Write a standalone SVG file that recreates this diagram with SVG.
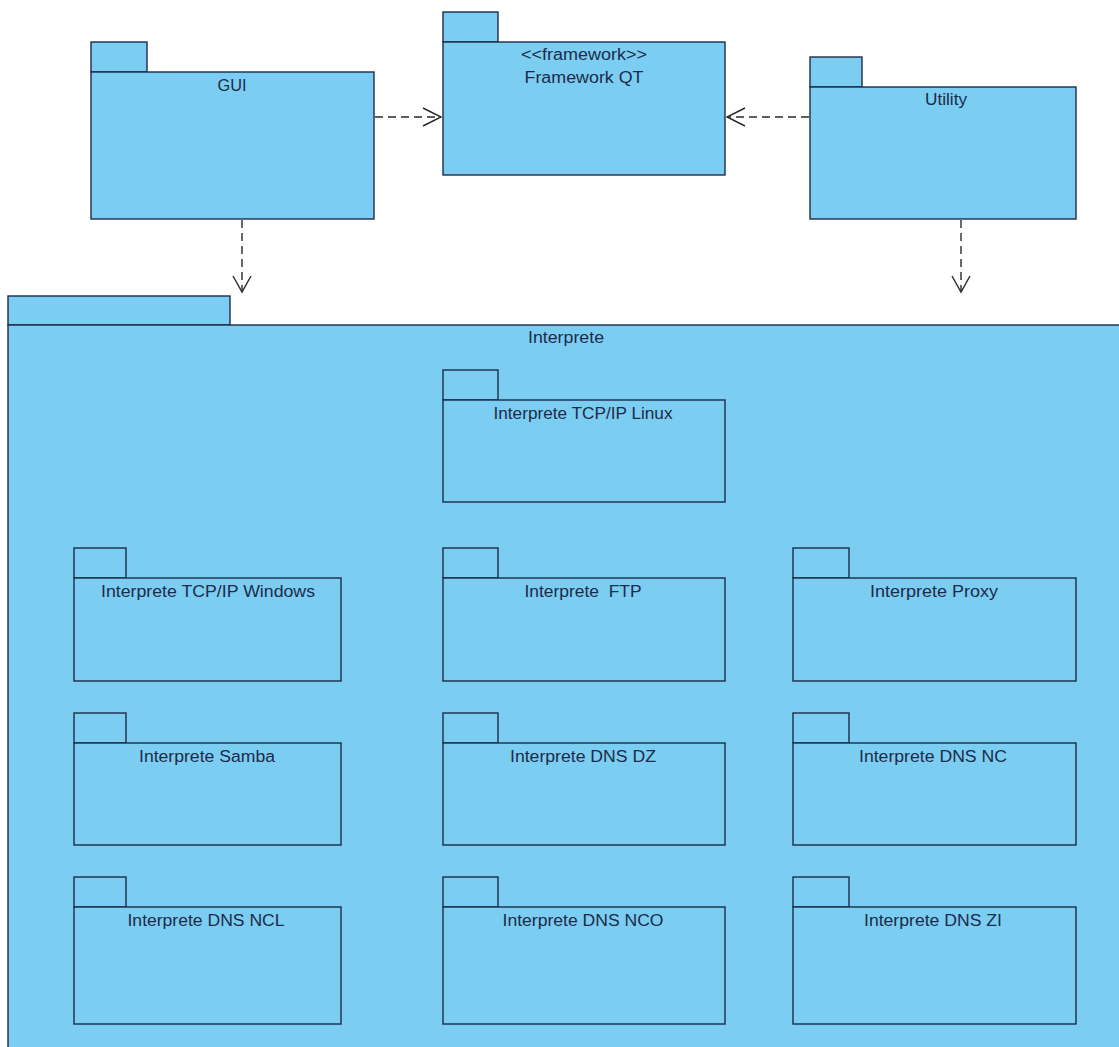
<svg xmlns="http://www.w3.org/2000/svg" width="1119" height="1047" viewBox="0 0 1119 1047">
<style>
.pk{fill:#7bcdf1;stroke:#1d2b4a;stroke-width:1.4}
.lb{font-family:"Liberation Sans",Arial,sans-serif;font-size:16px;fill:#1d2b4a;text-anchor:middle}
.dep{fill:none;stroke:#2a2a2a;stroke-width:1.4;stroke-dasharray:8 5}
.head{fill:none;stroke:#2a2a2a;stroke-width:1.4}
</style>
<rect width="1119" height="1047" fill="#ffffff"/>
<g id="interprete">
<rect class="pk" x="8" y="296" width="222" height="29"/>
<rect class="pk" x="8" y="325" width="1120" height="730"/>
<text class="lb" x="566" y="343" textLength="76" lengthAdjust="spacingAndGlyphs">Interprete</text>
</g>
<g id="gui">
<rect class="pk" x="91" y="42" width="56" height="30"/>
<rect class="pk" x="91" y="72" width="283" height="147"/>
<text class="lb" x="232" y="91" textLength="29" lengthAdjust="spacingAndGlyphs">GUI</text>
</g>
<g id="framework">
<rect class="pk" x="443" y="12" width="55" height="30"/>
<rect class="pk" x="443" y="42" width="282" height="133"/>
<text class="lb" x="584" y="60" textLength="126" lengthAdjust="spacingAndGlyphs">&lt;&lt;framework&gt;&gt;</text>
<text class="lb" x="584" y="83" textLength="119" lengthAdjust="spacingAndGlyphs">Framework QT</text>
</g>
<g id="utility">
<rect class="pk" x="810" y="57" width="52" height="30"/>
<rect class="pk" x="810" y="87" width="266" height="132"/>
<text class="lb" x="946" y="105" textLength="42" lengthAdjust="spacingAndGlyphs">Utility</text>
</g>
<g id="tcpip-linux">
<rect class="pk" x="443" y="370" width="55" height="30"/>
<rect class="pk" x="443" y="400" width="282" height="102"/>
<text class="lb" x="583" y="419" textLength="179" lengthAdjust="spacingAndGlyphs">Interprete TCP/IP Linux</text>
</g>
<g id="tcpip-windows">
<rect class="pk" x="74" y="548" width="52" height="30"/>
<rect class="pk" x="74" y="578" width="267" height="103"/>
<text class="lb" x="208" y="597" textLength="214" lengthAdjust="spacingAndGlyphs">Interprete TCP/IP Windows</text>
</g>
<g id="ftp">
<rect class="pk" x="443" y="548" width="55" height="30"/>
<rect class="pk" x="443" y="578" width="282" height="103"/>
<text class="lb" x="583" y="597" textLength="117" lengthAdjust="spacingAndGlyphs" xml:space="preserve">Interprete  FTP</text>
</g>
<g id="proxy">
<rect class="pk" x="793" y="548" width="56" height="30"/>
<rect class="pk" x="793" y="578" width="283" height="103"/>
<text class="lb" x="934" y="597" textLength="128" lengthAdjust="spacingAndGlyphs">Interprete Proxy</text>
</g>
<g id="samba">
<rect class="pk" x="74" y="713" width="52" height="30"/>
<rect class="pk" x="74" y="743" width="267" height="102"/>
<text class="lb" x="207" y="762" textLength="136" lengthAdjust="spacingAndGlyphs">Interprete Samba</text>
</g>
<g id="dns-dz">
<rect class="pk" x="443" y="713" width="55" height="30"/>
<rect class="pk" x="443" y="743" width="282" height="102"/>
<text class="lb" x="583" y="762" textLength="146" lengthAdjust="spacingAndGlyphs">Interprete DNS DZ</text>
</g>
<g id="dns-nc">
<rect class="pk" x="793" y="713" width="56" height="30"/>
<rect class="pk" x="793" y="743" width="283" height="102"/>
<text class="lb" x="933" y="762" textLength="148" lengthAdjust="spacingAndGlyphs">Interprete DNS NC</text>
</g>
<g id="dns-ncl">
<rect class="pk" x="74" y="877" width="52" height="30"/>
<rect class="pk" x="74" y="907" width="267" height="117"/>
<text class="lb" x="206" y="926" textLength="157" lengthAdjust="spacingAndGlyphs">Interprete DNS NCL</text>
</g>
<g id="dns-nco">
<rect class="pk" x="443" y="877" width="55" height="30"/>
<rect class="pk" x="443" y="907" width="282" height="117"/>
<text class="lb" x="583" y="926" textLength="161" lengthAdjust="spacingAndGlyphs">Interprete DNS NCO</text>
</g>
<g id="dns-zi">
<rect class="pk" x="793" y="877" width="56" height="30"/>
<rect class="pk" x="793" y="907" width="283" height="117"/>
<text class="lb" x="933" y="926" textLength="138" lengthAdjust="spacingAndGlyphs">Interprete DNS ZI</text>
</g>
<g id="connectors">
<line class="dep" x1="375" y1="117" x2="441" y2="117"/>
<polyline class="head" points="423,108 441,117 423,126"/>
<line class="dep" x1="809" y1="117" x2="727" y2="117"/>
<polyline class="head" points="745,108 727,117 745,126"/>
<line class="dep" x1="242" y1="220" x2="242" y2="292"/>
<polyline class="head" points="233,276 242,292 251,276"/>
<line class="dep" x1="961" y1="220" x2="961" y2="292"/>
<polyline class="head" points="952,276 961,292 970,276"/>
</g>
</svg>
